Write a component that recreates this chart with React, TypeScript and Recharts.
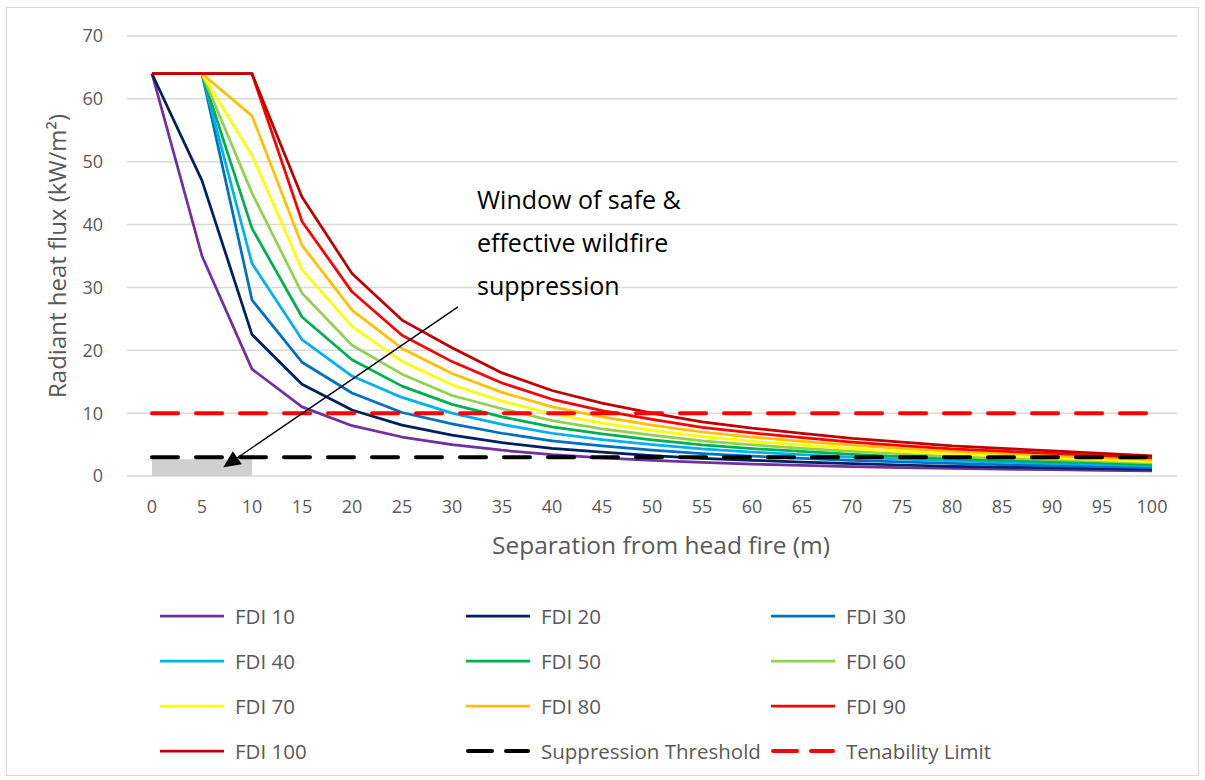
import React from 'react';
import {
  LineChart,
  Line,
  XAxis,
  YAxis,
  CartesianGrid,
  ReferenceArea,
  ReferenceLine,
  Legend,
  Label,
} from 'recharts';

// ---- data ----
const distances = [0, 5, 10, 15, 20, 25, 30, 35, 40, 45, 50, 55, 60, 65, 70, 75, 80, 85, 90, 95, 100];

const fdi10 = [64, 35, 17, 11, 8, 6.2, 5.0, 4.1, 3.4, 2.9, 2.5, 2.15, 1.9, 1.7, 1.5, 1.35, 1.2, 1.1, 1.0, 0.9, 0.8];
const fdi20 = [64, 47, 22.5, 14.6, 10.5, 8.1, 6.5, 5.3, 4.4, 3.8, 3.25, 2.8, 2.5, 2.2, 1.95, 1.75, 1.55, 1.43, 1.3, 1.17, 1.05];
const fdi30 = [64, 64, 28, 18.1, 13.2, 10.1, 8.3, 6.8, 5.6, 4.8, 4.1, 3.55, 3.15, 2.8, 2.5, 2.25, 2.0, 1.8, 1.65, 1.5, 1.35];
const fdi40 = [64, 64, 33.8, 21.7, 15.9, 12.5, 10.0, 8.2, 6.8, 5.8, 5.0, 4.3, 3.8, 3.4, 3.0, 2.7, 2.4, 2.2, 2.0, 1.8, 1.6];
const fdi50 = [64, 64, 39.4, 25.3, 18.5, 14.3, 11.4, 9.4, 7.8, 6.7, 5.75, 4.95, 4.35, 3.9, 3.45, 3.1, 2.75, 2.5, 2.3, 2.07, 1.85];
const fdi60 = [64, 64, 45, 29.1, 20.8, 16.2, 12.8, 10.7, 8.8, 7.5, 6.5, 5.6, 4.95, 4.4, 3.9, 3.5, 3.1, 2.85, 2.6, 2.35, 2.1];
const fdi70 = [64, 64, 51, 32.8, 23.8, 18.2, 14.5, 11.9, 9.9, 8.4, 7.25, 6.25, 5.5, 4.9, 4.35, 3.9, 3.5, 3.2, 2.9, 2.6, 2.3];
const fdi80 = [64, 64, 57.3, 36.7, 26.4, 20.3, 16.3, 13.3, 11.0, 9.4, 8.1, 7.0, 6.2, 5.5, 4.9, 4.4, 3.9, 3.6, 3.25, 2.9, 2.6];
const fdi90 = [64, 64, 64, 40.5, 29.3, 22.4, 18.2, 14.8, 12.2, 10.4, 9.0, 7.75, 6.85, 6.1, 5.4, 4.85, 4.3, 3.95, 3.6, 3.25, 2.9];
const fdi100 = [64, 64, 64, 44.4, 32.2, 24.8, 20.4, 16.4, 13.6, 11.6, 10.0, 8.6, 7.6, 6.8, 6.0, 5.4, 4.8, 4.4, 4.0, 3.6, 3.2];
const suppressionThreshold = [3, 3, 3, 3, 3, 3, 3, 3, 3, 3, 3, 3, 3, 3, 3, 3, 3, 3, 3, 3, 3];
const tenabilityLimit = [10, 10, 10, 10, 10, 10, 10, 10, 10, 10, 10, 10, 10, 10, 10, 10, 10, 10, 10, 10, 10];

const yTicks = [0, 10, 20, 30, 40, 50, 60, 70];

const seriesNames = ['FDI 10', 'FDI 20', 'FDI 30', 'FDI 40', 'FDI 50', 'FDI 60', 'FDI 70', 'FDI 80', 'FDI 90', 'FDI 100', 'Suppression Threshold', 'Tenability Limit'];
const seriesColors = ['#7030A0', '#002060', '#0070C0', '#00B0F0', '#00B050', '#92D050', '#FFFF00', '#FFC000', '#FF0000', '#C00000', '#000000', '#FF0000'];
const seriesValues = [fdi10, fdi20, fdi30, fdi40, fdi50, fdi60, fdi70, fdi80, fdi90, fdi100, suppressionThreshold, tenabilityLimit];
const dashedSeries = [false, false, false, false, false, false, false, false, false, false, true, true];

const safeWindow = { x1: 0, x2: 10, y1: 0, y2: 2.65 };
const arrowFrom = { x: 30.6, y: 26.9 };
const arrowTo = { x: 7.13, y: 1.38 };
const annotationLines = ['Window of safe &', 'effective wildfire', 'suppression'];

const rows = distances.map((d, i) => {
  const r: Record<string, number> = { x: d };
  seriesNames.forEach((n, k) => {
    r[n] = seriesValues[k][i];
  });
  return r;
});

const FONT = "'Open Sans', 'DejaVu Sans', sans-serif";
const GREY_TEXT = '#595959';

const ArrowShape = (props: any) => {
  const { x1, y1, x2, y2 } = props;
  if ([x1, y1, x2, y2].some((v) => typeof v !== 'number' || isNaN(v))) return <g />;
  const dx = x2 - x1;
  const dy = y2 - y1;
  const len = Math.sqrt(dx * dx + dy * dy);
  const ux = dx / len;
  const uy = dy / len;
  const headLen = 17;
  const headW = 8;
  const bx = x2 - ux * headLen;
  const by = y2 - uy * headLen;
  const px = -uy;
  const py = ux;
  return (
    <g>
      <line x1={x1} y1={y1} x2={bx} y2={by} stroke="#000" strokeWidth={1.4} />
      <polygon
        points={`${x2},${y2} ${bx + px * headW},${by + py * headW} ${bx - px * headW},${by - py * headW}`}
        fill="#000"
      />
    </g>
  );
};

const LegendContent = () => {
  const colLeft = [153, 459, 764];
  return (
    <div style={{ position: 'relative', width: 1191, height: 180, fontFamily: FONT }}>
      {seriesNames.map((name, i) => {
        const col = i % 3;
        const row = Math.floor(i / 3);
        const cy = 22 + row * 45;
        return (
          <div
            key={name}
            style={{
              position: 'absolute',
              left: colLeft[col],
              top: cy - 15,
              height: 30,
              display: 'flex',
              alignItems: 'center',
              whiteSpace: 'nowrap',
            }}
          >
            <svg width={64} height={8} style={{ display: 'block' }}>
              <line
                x1={dashedSeries[i] ? 2 : 0}
                y1={4}
                x2={dashedSeries[i] ? 62 : 64}
                y2={4}
                stroke={seriesColors[i]}
                strokeWidth={dashedSeries[i] ? 4 : 2.75}
                strokeDasharray={dashedSeries[i] ? '24 14' : undefined}
                strokeLinecap={dashedSeries[i] ? 'round' : 'butt'}
              />
            </svg>
            <span style={{ marginLeft: 11, fontSize: 20.5, color: GREY_TEXT }}>{name}</span>
          </div>
        );
      })}
    </div>
  );
};

export default function App() {
  return (
    <div
      style={{
        position: 'absolute',
        left: 6,
        top: 7,
        width: 1191,
        height: 767,
        border: '1px solid #D9D9D9',
        background: '#fff',
        fontFamily: FONT,
      }}
    >
      <LineChart
        width={1191}
        height={767}
        data={rows}
        margin={{ top: 28, right: 21, left: 50, bottom: 239 }}
        style={{ fontFamily: FONT }}
      >
        <CartesianGrid vertical={false} stroke="#D9D9D9" strokeWidth={1.5} />
        <XAxis
          type="number"
          dataKey="x"
          domain={[-2.5, 102.5]}
          ticks={distances}
          interval={0}
          axisLine={false}
          tickLine={false}
          tickMargin={18}
          height={60}
          tick={{ fill: GREY_TEXT, fontSize: 18 }}
        >
          <Label
            content={() => (
              <text x={654} y={546} textAnchor="middle" fill={GREY_TEXT} fontSize={24.5} fontFamily={FONT}>
                Separation from head fire (m)
              </text>
            )}
          />
        </XAxis>
        <YAxis
          type="number"
          domain={[0, 70]}
          ticks={yTicks}
          interval={0}
          axisLine={false}
          tickLine={false}
          tickMargin={18}
          width={70}
          tick={{ fill: GREY_TEXT, fontSize: 18 }}
        >
          <Label
            content={() => (
              <text
                x={59}
                y={248}
                textAnchor="middle"
                fill={GREY_TEXT}
                fontSize={24}
                fontFamily={FONT}
                transform="rotate(-90, 59, 248)"
              >
                Radiant heat flux (kW/m²)
              </text>
            )}
          />
        </YAxis>
        <ReferenceArea
          x1={safeWindow.x1}
          x2={safeWindow.x2}
          y1={safeWindow.y1}
          y2={safeWindow.y2}
          fill="#D0D0D0"
          fillOpacity={1}
          stroke="none"
        />
        {seriesNames.map((name, i) => (
          <Line
            key={name}
            type="linear"
            dataKey={name}
            name={name}
            stroke={seriesColors[i]}
            strokeWidth={dashedSeries[i] ? 4 : 2.75}
            strokeDasharray={dashedSeries[i] ? '26 18' : undefined}
            strokeLinecap={dashedSeries[i] ? 'round' : 'butt'}
            strokeLinejoin="round"
            dot={false}
            activeDot={false}
            isAnimationActive={false}
          />
        ))}
        <ReferenceLine
          segment={[arrowFrom, arrowTo]}
          stroke="#000"
          shape={ArrowShape}
          ifOverflow="visible"
        />
        <Legend
          verticalAlign="middle"
          align="center"
          layout="horizontal"
          wrapperStyle={{ left: 0, top: 586, width: 1191, height: 180 }}
          content={LegendContent}
        />
      </LineChart>
      <svg
        width={1191}
        height={767}
        style={{ position: 'absolute', left: 0, top: 0, pointerEvents: 'none' }}
      >
        {annotationLines.map((t, i) => (
          <text key={t} x={470} y={201 + i * 43} fontSize={25} fill="#000" fontFamily={FONT}>
            {t}
          </text>
        ))}
      </svg>
    </div>
  );
}
